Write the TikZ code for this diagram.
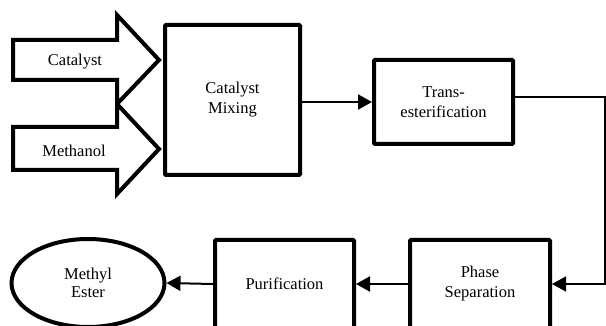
\documentclass[tikz,border=0pt]{standalone}
\usepackage{fontspec}
\setmainfont{Liberation Serif}
\usetikzlibrary{arrows.meta,shapes.geometric}
\begin{document}
\begin{tikzpicture}[x=1pt,y=-1pt,
  procbox/.style={draw,line width=4pt,rounded corners=1pt,align=center,
    font=\fontsize{16.5}{20}\selectfont,inner sep=0pt},
  blockarrow/.style={draw,line width=4pt,miter limit=10},
  lbl/.style={font=\fontsize{16.5}{20}\selectfont,inner sep=0pt},
  conn/.style={line width=2pt,-{Triangle[length=14pt,width=15pt]}},
  thinconn/.style={line width=1.3pt,-{Triangle[length=14pt,width=15pt]},shorten >=0pt}]
\useasboundingbox (0,0) rectangle (606,326);
% block arrows
\draw[blockarrow] (13,40) -- (117,40) -- (117,15) -- (159,60) -- (117,104) -- (117,80) -- (13,80) -- cycle;
\node[lbl] (cat) at (75,62) {Catalyst};
\draw[blockarrow] (13,127) -- (117,127) -- (117,104) -- (159,149) -- (117,194) -- (117,170) -- (13,170) -- cycle;
\node[lbl] (meth) at (74,151) {Methanol};
% process boxes
\node[procbox,minimum width=135pt,minimum height=150pt] (mix) at (232.5,100) {Catalyst\\Mixing};
\node[procbox,minimum width=139pt,minimum height=84pt] (trans) at (443.5,102) {Trans-\\esterification};
\node[procbox,minimum width=140pt,minimum height=88pt] (phase) at (480,284) {Phase\\Separation};
\node[procbox,minimum width=139pt,minimum height=88pt] (pur) at (284.5,284) {Purification};
\node[draw,ellipse,line width=4pt,minimum width=153pt,minimum height=88pt,align=center,
  font=\fontsize{16.5}{18}\selectfont,inner sep=0pt] (ester) at (88,283) {Methyl\\Ester};
% connectors
\coordinate (c1) at (605,97);
\coordinate (c2) at (605,284);
\draw[conn] (mix.east |- trans.west) -- (trans.west);
\draw[thinconn] (trans.east |- c1) -- (c1) -- (c2) -- (phase.east);
\draw[conn] (phase.west) -- (pur.east);
\draw[conn] (pur.west) -- (ester.east);
\end{tikzpicture}
\end{document}
